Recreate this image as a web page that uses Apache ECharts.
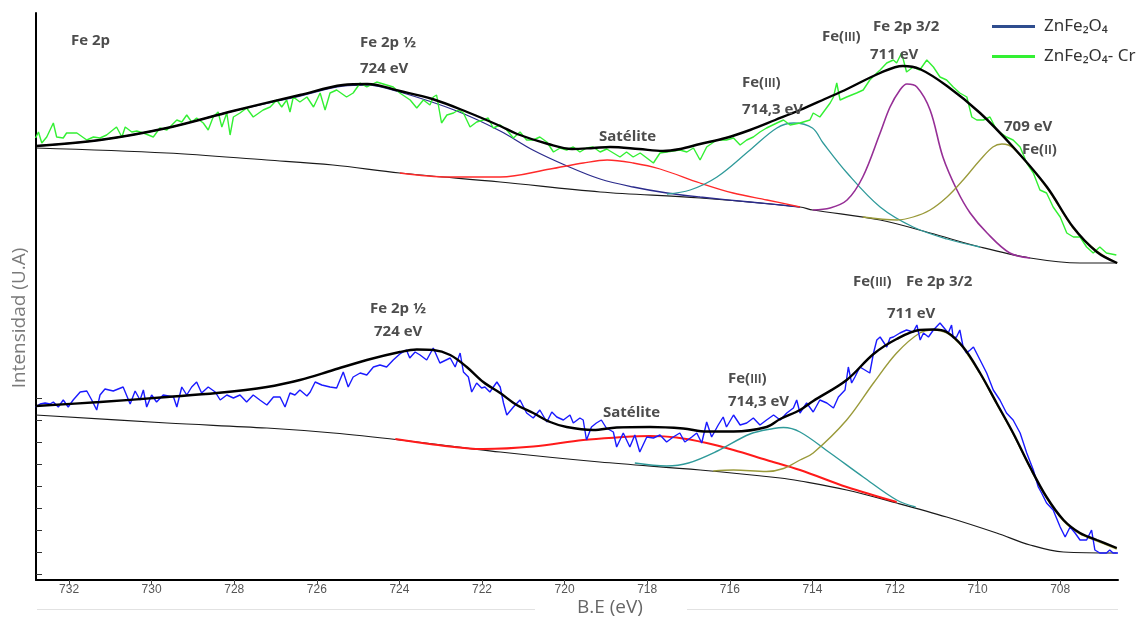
<!DOCTYPE html>
<html>
<head>
<meta charset="utf-8">
<script src="https://cdn.jsdelivr.net/npm/echarts@6/dist/echarts.min.js"></script>
<style>html,body{margin:0;padding:0;background:#fff;}#c{width:1148px;height:619px;}</style>
</head>
<body>
<div id="c"></div>
<script>
// ---- axis ticks ----
const xTickValues = [708, 710, 712, 714, 716, 718, 720, 722, 724, 726, 728, 730, 732];
const yTickValues = [6, 28, 50, 72, 94, 116, 138, 160, 182];

// ---- ZnFe2O4-Cr (upper spectrum) : [B.E eV, intensity U.A] ----
const crRaw = [[732.81,442],[732.74,448],[732.66,437],[732.54,443],[732.38,457],[732.30,443],[732.14,442],[732.06,447],[731.81,447],[731.57,440],[731.41,443],[731.25,442],[731.09,445],[730.85,453],[730.72,443],[730.64,453],[730.48,448],[730.36,449],[730.20,447],[729.96,443],[729.80,452],[729.63,450],[729.39,460],[729.27,458],[729.15,465],[729.03,458],[728.91,462],[728.75,457],[728.63,450],[728.51,463],[728.39,468],[728.30,453],[728.18,467],[728.10,445],[728.02,463],[727.86,467],[727.70,472],[727.54,463],[727.30,470],[727.13,473],[726.97,480],[726.85,473],[726.73,480],[726.65,468],[726.57,483],[726.41,478],[726.24,483],[726.08,473],[725.92,487],[725.80,470],[725.68,487],[725.52,490],[725.28,483],[725.12,487],[724.95,497],[724.79,493],[724.55,498],[724.31,495],[724.15,493],[723.99,487],[723.74,480],[723.58,472],[723.42,480],[723.26,475],[723.18,483],[723.10,485],[722.98,457],[722.85,465],[722.69,467],[722.57,470],[722.45,467],[722.37,460],[722.29,453],[722.13,458],[721.97,460],[721.85,462],[721.73,452],[721.56,455],[721.40,450],[721.24,442],[721.08,448],[720.92,440],[720.76,440],[720.60,443],[720.43,438],[720.27,428],[720.11,432],[719.95,430],[719.79,433],[719.63,428],[719.47,432],[719.31,433],[719.14,428],[718.98,431],[718.82,427],[718.66,423],[718.50,428],[718.34,423],[718.17,427],[718.01,422],[717.85,417],[717.69,427],[717.53,428],[717.21,430],[717.04,428],[716.88,432],[716.72,420],[716.56,433],[716.32,440],[716.08,440],[715.91,442],[715.75,435],[715.59,440],[715.43,443],[715.27,448],[715.11,452],[714.86,457],[714.70,460],[714.54,455],[714.30,457],[714.06,460],[713.98,467],[713.82,463],[713.57,477],[713.49,483],[713.41,497],[713.33,480],[713.17,483],[712.93,487],[712.77,490],[712.61,500],[712.44,507],[712.36,510],[712.20,517],[712.04,520],[711.96,517],[711.84,527],[711.72,508],[711.56,513],[711.40,510],[711.23,520],[711.07,513],[710.91,503],[710.75,500],[710.59,493],[710.43,487],[710.26,483],[710.14,463],[710.02,460],[709.86,460],[709.70,463],[709.54,450],[709.30,443],[709.14,440],[708.97,433],[708.81,417],[708.65,407],[708.49,390],[708.33,387],[708.17,373],[708.00,363],[707.84,347],[707.68,343],[707.52,343],[707.36,333],[707.20,327],[707.04,333],[706.88,327],[706.64,325]];
const crFit = [[732.80,434],[731.25,440],[729.63,452],[728.03,469],[726.41,485],[725.37,495],[724.78,496],[723.99,489],[723.20,481],[722.36,468],[721.56,454],[721.15,446],[720.40,436],[719.82,431],[719.30,432],[718.90,433],[718.20,431],[717.62,429],[717.20,431],[716.72,436],[716.10,442],[715.51,450],[714.90,460],[714.30,470],[713.70,481],[713.16,491],[712.36,507],[711.81,514],[711.40,511],[710.74,494],[709.94,467],[709.14,433],[708.32,393],[707.69,353],[707.11,328],[706.62,317]];
const crBackground = [[732.80,432],[729.63,427],[727.21,420],[725.61,415],[723.99,407],[721.56,398],[719.14,388],[716.72,382],[714.30,373],[713.99,370],[712.36,360],[711.15,347],[709.94,333],[708.73,322],[707.52,317],[706.62,317]];
const crFe2p12 = [[732.80,434],[731.25,440],[729.63,452],[728.03,469],[726.41,484],[725.37,494],[724.78,495],[723.99,488],[722.61,469],[721.56,449],[720.77,430],[719.94,414],[719.14,401],[718.34,393],[717.52,387],[716.72,383],[715.51,378],[714.30,373]];
const crSatellite = [[723.99,407],[722.80,403],[721.56,403],[720.35,411],[719.55,417],[718.97,420],[718.34,417],[717.69,411],[716.72,397],[715.92,387],[715.10,380],[714.30,373]];
const crFe3_714 = [[717.52,386],[716.96,390],[716.31,403],[715.51,430],[714.86,452],[714.45,457],[714.00,452],[713.74,437],[713.16,407],[712.36,373],[711.56,353],[710.74,341],[709.94,333]];
const crFe3_711 = [[713.99,370],[713.57,372],[713.16,380],[712.78,403],[712.36,447],[712.12,473],[711.88,490],[711.71,496],[711.47,493],[711.15,470],[710.84,423],[710.50,390],[710.18,367],[709.77,347],[709.22,327],[708.73,322]];
const crFe2_709 = [[712.78,363],[711.95,360],[711.56,363],[711.15,370],[710.74,383],[710.35,400],[709.94,420],[709.63,433],[709.41,436],[709.14,432],[708.32,392],[707.69,352],[707.11,329],[706.62,317]];

// ---- ZnFe2O4 (lower spectrum) ----
const znRaw = [[732.81,173],[732.70,176],[732.58,177],[732.46,176],[732.38,178],[732.26,173],[732.14,180],[732.02,173],[731.90,180],[731.73,188],[731.57,189],[731.45,180],[731.33,170],[731.25,185],[731.13,191],[730.93,189],[730.69,193],[730.52,176],[730.40,189],[730.28,180],[730.20,190],[730.12,173],[730.00,185],[729.88,178],[729.72,185],[729.47,183],[729.39,173],[729.27,193],[729.15,185],[729.03,193],[728.91,198],[728.79,187],[728.63,193],[728.46,188],[728.34,180],[728.18,185],[728.02,182],[727.86,185],[727.70,178],[727.54,185],[727.38,180],[727.21,175],[727.05,183],[726.89,183],[726.77,173],[726.65,187],[726.53,185],[726.41,190],[726.24,184],[726.16,188],[726.04,198],[725.88,195],[725.68,193],[725.52,192],[725.44,200],[725.36,208],[725.24,193],[725.12,203],[724.95,207],[724.79,205],[724.63,213],[724.47,215],[724.31,213],[724.15,220],[723.99,226],[723.83,230],[723.75,222],[723.62,228],[723.50,225],[723.34,220],[723.18,232],[723.02,217],[722.77,222],[722.65,213],[722.53,227],[722.45,208],[722.33,203],[722.25,188],[722.13,197],[722.01,192],[721.93,193],[721.81,188],[721.64,198],[721.56,193],[721.48,177],[721.40,165],[721.24,173],[721.08,180],[720.92,167],[720.76,162],[720.60,170],[720.43,158],[720.31,168],[720.19,163],[720.03,160],[719.87,165],[719.79,157],[719.63,162],[719.55,160],[719.47,140],[719.35,153],[719.23,157],[719.11,160],[718.99,152],[718.82,148],[718.74,133],[718.58,147],[718.42,133],[718.30,145],[718.18,128],[718.01,143],[717.85,142],[717.69,145],[717.53,138],[717.37,143],[717.21,147],[717.09,138],[716.92,143],[716.80,147],[716.68,137],[716.56,158],[716.44,143],[716.28,155],[716.16,163],[716.08,153],[715.91,165],[715.75,155],[715.59,157],[715.43,162],[715.27,155],[715.11,160],[714.94,165],[714.78,160],[714.62,167],[714.46,172],[714.38,180],[714.30,167],[714.14,177],[713.98,168],[713.82,180],[713.65,177],[713.49,172],[713.37,183],[713.21,190],[713.13,213],[713.05,197],[712.97,203],[712.85,213],[712.73,210],[712.61,207],[712.52,227],[712.44,240],[712.36,243],[712.28,238],[712.20,233],[712.12,242],[712.04,243],[711.88,247],[711.72,250],[711.56,248],[711.47,255],[711.39,240],[711.31,247],[711.19,243],[711.07,250],[710.91,257],[710.83,253],[710.71,247],[710.63,255],[710.59,242],[710.51,243],[710.43,250],[710.35,233],[710.27,227],[710.18,230],[710.10,233],[709.94,220],[709.78,207],[709.62,190],[709.46,180],[709.30,167],[709.14,160],[708.97,147],[708.81,127],[708.65,110],[708.53,93],[708.45,87],[708.33,77],[708.17,70],[708.00,53],[707.88,43],[707.76,53],[707.64,47],[707.52,40],[707.36,40],[707.24,50],[707.16,30],[707.04,27],[706.88,27],[706.80,30],[706.72,27],[706.60,27]];
const znFit = [[732.81,174],[731.25,178],[729.63,183],[728.42,187],[727.21,193],[726.41,200],[725.60,210],[724.79,220],[723.99,228],[723.58,230.5],[723.18,230],[722.77,225],[722.37,213],[721.97,198],[721.56,187],[721.16,175],[720.76,167],[720.35,158],[719.95,153],[719.31,150],[718.74,152.5],[717.93,153],[717.13,151.5],[716.56,148.5],[715.91,148.5],[715.11,153],[714.78,161],[714.30,170],[713.98,179],[713.17,200],[712.52,226],[711.96,241],[711.40,250],[711.07,250.5],[710.75,248],[710.35,233],[709.94,207],[709.54,177],[709.14,147],[708.73,113],[708.33,83],[707.92,60],[707.52,47],[707.11,40],[706.63,32]];
const znBackground = [[732.81,165],[729.63,157],[727.21,152],[725.60,147],[723.99,140],[721.56,128],[719.15,118],[716.72,110],[714.78,102],[714.30,99],[713.17,90],[711.96,77],[710.75,63],[709.54,47],[708.73,35],[707.92,28],[706.63,27]];
const znSatellite = [[724.10,141],[723.18,135.5],[721.97,131],[720.76,133.5],[719.55,140],[718.74,142.5],[717.93,144],[717.29,142.5],[716.56,137],[715.91,130],[715.11,120],[714.30,110],[713.17,93],[711.96,78]];
const znFe3_714 = [[718.30,117],[717.53,114],[717.00,117],[716.30,129],[715.51,146],[714.94,151.5],[714.70,152.5],[714.30,148],[713.57,127],[712.77,103],[711.96,80],[711.50,73]];
const znFe3_711 = [[716.40,109],[715.91,110],[715.11,108.5],[714.70,111.5],[714.30,120],[713.98,127],[713.17,160],[712.52,197],[711.96,227],[711.40,247],[711.07,250],[710.75,247],[710.43,236],[710.35,232],[709.94,206],[709.54,176],[709.14,146],[708.73,112],[708.33,82],[707.92,59],[707.52,46],[707.11,39],[706.63,31]];

const NAME_ZN = 'ZnFe\u2082O\u2084';
const NAME_CR = 'ZnFe\u2082O\u2084- Cr';

function fitLine(name, data, color, width, z) {
  return { name: name, type: 'line', data: data, showSymbol: false, smooth: 0.35,
    lineStyle: { color: color, width: width }, itemStyle: { color: color }, z: z, silent: true };
}
function rawLine(name, data, color) {
  return { name: name, type: 'line', data: data, showSymbol: false, smooth: false,
    lineStyle: { color: color, width: 1.4 }, itemStyle: { color: color }, z: 5, silent: true };
}

const FONT = '"Open Sans", "Liberation Sans", sans-serif';
const TXT = '#4d4d4d';
function lab(x, y, t) {
  return { type: 'text', x: x, y: y, silent: true, z: 50,
    style: { text: t, fill: TXT, font: 'bold 15px ' + FONT, verticalAlign: 'middle' } };
}
function labFe(x, y, roman) {
  return { type: 'text', x: x, y: y, silent: true, z: 50,
    style: { text: '{a|Fe(}{b|' + roman + '}{a|)}', verticalAlign: 'middle',
      rich: { a: { fill: TXT, font: 'bold 15px ' + FONT }, b: { fill: TXT, font: 'bold 11.5px ' + FONT, padding: [2, 0, 0, 0] } } } };
}

const chart = echarts.init(document.getElementById('c'), null, { renderer: 'canvas' });
chart.setOption({
  animation: false,
  backgroundColor: '#ffffff',
  grid: { left: 36, right: 30, top: 13, bottom: 39, containLabel: false },
  legend: {
    orient: 'vertical', left: 987, top: 13, itemGap: 13,
    icon: 'rect', itemWidth: 43, itemHeight: 3,
    selectedMode: false,
    textStyle: { fontFamily: '"Noto Sans", "Open Sans", sans-serif', fontSize: 17, color: '#333', padding: [0, 0, 0, 4] },
    data: [
      { name: NAME_ZN, itemStyle: { color: '#2f4d8e' } },
      { name: NAME_CR, itemStyle: { color: '#33f033' } }
    ]
  },
  xAxis: {
    type: 'value', inverse: true, min: 706.6, max: 732.8,
    axisLine: { show: true, lineStyle: { color: '#000', width: 2 } },
    axisTick: { show: true, customValues: xTickValues, length: 5, lineStyle: { color: '#444', width: 1 } },
    axisLabel: { show: true, customValues: xTickValues, margin: 4, color: '#555', fontSize: 12, fontFamily: '"Liberation Sans", sans-serif' },
    splitLine: { show: false }
  },
  yAxis: {
    type: 'value', min: 0, max: 567,
    axisLine: { show: true, lineStyle: { color: '#000', width: 2 } },
    axisTick: { show: true, inside: true, customValues: yTickValues, length: 6, lineStyle: { color: '#333', width: 1 } },
    axisLabel: { show: false },
    splitLine: { show: false }
  },
  series: [
    fitLine('cr-bg', crBackground, '#1a1a1a', 1.2, 2),
    fitLine('cr-2p12', crFe2p12, '#2b2b8c', 1.3, 3),
    fitLine('cr-sat', crSatellite, '#ff2a2a', 1.3, 3),
    fitLine('cr-714', crFe3_714, '#2f9a9a', 1.3, 3),
    fitLine('cr-711', crFe3_711, '#962f96', 1.6, 3),
    fitLine('cr-709', crFe2_709, '#9a9a3a', 1.3, 3),
    rawLine(NAME_CR, crRaw, '#33f033'),
    fitLine('cr-fit', crFit, '#000000', 2.4, 8),
    fitLine('zn-bg', znBackground, '#1a1a1a', 1.2, 2),
    fitLine('zn-sat', znSatellite, '#ff1a1a', 2, 3),
    fitLine('zn-714', znFe3_714, '#2f9a9a', 1.4, 3),
    fitLine('zn-711', znFe3_711, '#9a9a3a', 1.4, 3),
    rawLine(NAME_ZN, znRaw, '#1a1aff'),
    fitLine('zn-fit', znFit, '#000000', 2.4, 8)
  ],
  graphic: [
    lab(71, 41, 'Fe 2p'),
    lab(360, 43, 'Fe 2p \u00bd'),
    lab(360, 69, '724 eV'),
    lab(599, 137, 'Sat\u00e9lite'),
    labFe(742, 83, 'III'),
    lab(742, 110, '714,3 eV'),
    labFe(822, 37, 'III'),
    lab(873, 27, 'Fe 2p 3/2'),
    lab(870, 55, '711 eV'),
    lab(1004, 127, '709 eV'),
    labFe(1022, 150, 'II'),
    labFe(853, 282, 'III'),
    lab(906, 282, 'Fe 2p 3/2'),
    lab(887, 314, '711 eV'),
    lab(370, 309, 'Fe 2p \u00bd'),
    lab(374, 332, '724 eV'),
    labFe(728, 379, 'III'),
    lab(728, 402, '714,3 eV'),
    lab(603, 413, 'Sat\u00e9lite'),
    { type: 'text', x: 20, y: 318, rotation: Math.PI / 2, silent: true,
      style: { text: 'Intensidad (U.A)', fill: '#7a7a7a', font: '19px ' + FONT, align: 'center', verticalAlign: 'middle' } },
    { type: 'text', x: 577, y: 608, silent: true,
      style: { text: 'B.E (eV)', fill: '#666', font: '19px ' + FONT, verticalAlign: 'middle' } },
    { type: 'line', silent: true, shape: { x1: 37, y1: 609.5, x2: 535, y2: 609.5 }, style: { stroke: '#e2e2e2', lineWidth: 1 } },
    { type: 'line', silent: true, shape: { x1: 687, y1: 609.5, x2: 1118, y2: 609.5 }, style: { stroke: '#e2e2e2', lineWidth: 1 } }
  ]
});
</script>
</body>
</html>
